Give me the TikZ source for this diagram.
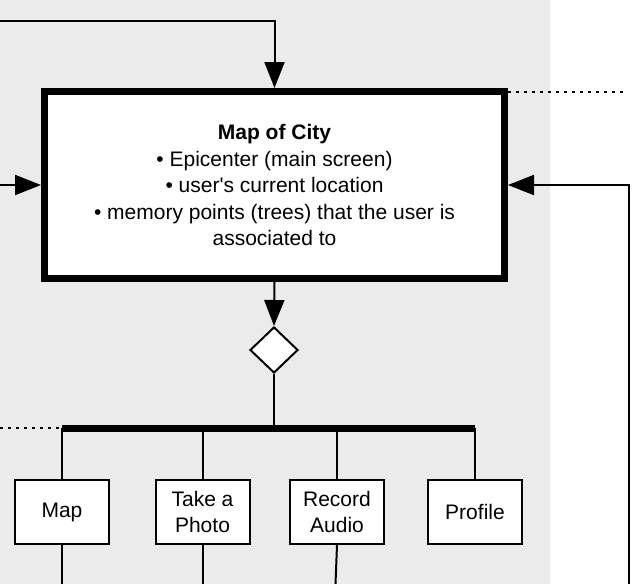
\documentclass[tikz,border=0pt]{standalone}
\usepackage{fontspec}
\setmainfont{Liberation Sans}[Ligatures=TeXOff]
\usetikzlibrary{arrows.meta,shapes.geometric}
\definecolor{bggray}{RGB}{235,235,235}
\begin{document}
\begin{tikzpicture}[x=1pt,y=-1pt,
  thinline/.style={line width=2pt},
  arr/.style={line width=2pt,-{Triangle[length=26pt,width=20pt]}},
  dotline/.style={line width=2pt,dash pattern=on 3pt off 5pt},
  smallbox/.style={draw,fill=white,line width=2pt,minimum width=94pt,minimum height=64pt,inner sep=0pt,align=center,font=\fontsize{21}{26}\selectfont},
  mainbox/.style={draw,fill=white,line width=7pt,minimum width=460pt,minimum height=187pt,align=center,font=\fontsize{21}{26.5}\selectfont},
  fork/.style={diamond,draw,fill=white,line width=2pt,minimum width=48pt,minimum height=46pt,inner sep=0pt}
]
\useasboundingbox (0,0) rectangle (641,584);
\fill[bggray] (0,0) rectangle (550,584);
\node[mainbox] (main) at (274.5,185) {\textbf{Map of City}\\• Epicenter (main screen)\\• user's current location\\• memory points (trees) that the user is\\associated to};
\node[fork] (dia) at (274,350) {};
\node[smallbox] (bmap) at (62,512) {Map};
\node[smallbox] (bphoto) at (202.5,512) {Take a\\Photo};
\node[smallbox] (brec) at (337,512) {Record\\Audio};
\node[smallbox] (bprof) at (475,512) {Profile};
\coordinate (barL) at (62,428);
\coordinate (barR) at (475,428);
\coordinate (tin) at (0,21);
\coordinate (lin) at (0,185);
\coordinate (rin) at (629,584);
\coordinate (d1) at (623,92);
\coordinate (d2) at (0,428);
\coordinate (e1) at (62,584);
\coordinate (e2) at (202.5,584);
\coordinate (e3) at (335.5,584);
% connectors
\draw[arr] (tin) -| (main.north);
\draw[arr] (lin) -- (main.west);
\draw[arr] (rin) |- (main.east);
\draw[dotline] (main.north east |- d1) -- (d1);
\draw[arr] (main.south) -- (dia.north);
\draw[thinline] (dia.south) -- (dia.south |- barL);
\draw[line width=7pt] (barL) -- (barR);
\draw[dotline] (d2) -- (barL);
\draw[thinline] (barL) -- (bmap.north);
\draw[thinline] (bphoto.north |- barL) -- (bphoto.north);
\draw[thinline] (brec.north |- barL) -- (brec.north);
\draw[thinline] (barR) -- (bprof.north);
\draw[thinline] (bmap.south) -- (e1);
\draw[thinline] (bphoto.south) -- (e2);
\draw[thinline] (brec.south) -- (e3);
\end{tikzpicture}
\end{document}
